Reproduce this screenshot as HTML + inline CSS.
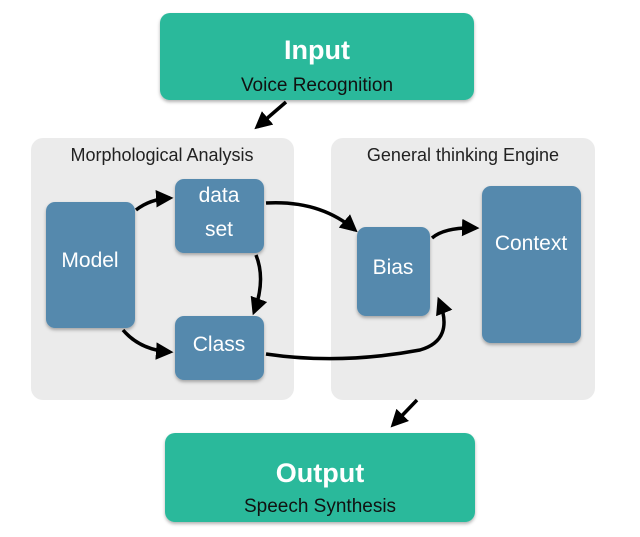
<!DOCTYPE html>
<html><head><meta charset="utf-8"><style>
html,body{margin:0;padding:0;background:#fff;}
svg{display:block;font-family:"Liberation Sans",sans-serif;}
</style></head><body>
<svg width="640" height="537" viewBox="0 0 640 537" xmlns="http://www.w3.org/2000/svg">
<defs>
<marker id="a" markerWidth="5" markerHeight="5" refX="4" refY="2.5" orient="auto" markerUnits="strokeWidth">
<path d="M0,0 L5,2.5 L0,5 z" fill="#000"/></marker>
<filter id="s" x="-10%" y="-10%" width="120%" height="130%"><feDropShadow dx="0" dy="2" stdDeviation="1.5" flood-opacity="0.3"/></filter>
</defs>
<rect x="31" y="138" width="263" height="262" rx="12" fill="#ebebeb"/>
<rect x="331" y="138" width="264" height="262" rx="12" fill="#ebebeb"/>
<text x="162" y="161" font-size="18" text-anchor="middle" fill="#222">Morphological Analysis</text>
<text x="463" y="161" font-size="18" text-anchor="middle" fill="#222">General thinking Engine</text>

<rect x="160" y="13" width="314" height="87" rx="10" fill="#2bb99b" filter="url(#s)"/>
<text x="317" y="59" font-size="27" font-weight="bold" text-anchor="middle" fill="#fff">Input</text>
<text x="317" y="91" font-size="19" text-anchor="middle" fill="#111">Voice Recognition</text>

<rect x="165" y="433" width="310" height="89" rx="10" fill="#2bb99b" filter="url(#s)"/>
<text x="320" y="482" font-size="27" font-weight="bold" text-anchor="middle" fill="#fff">Output</text>
<text x="320" y="512" font-size="19" text-anchor="middle" fill="#111">Speech Synthesis</text>

<g fill="#5589ad" filter="url(#s)">
<rect x="46" y="202" width="89" height="126" rx="9"/>
<rect x="175" y="179" width="89" height="74" rx="9"/>
<rect x="175" y="316" width="89" height="64" rx="9"/>
<rect x="357" y="227" width="73" height="89" rx="9"/>
<rect x="482" y="186" width="99" height="157" rx="9"/>
</g>
<g fill="#fff" font-size="21" text-anchor="middle">
<text x="90" y="267">Model</text>
<text x="219" y="202">data</text>
<text x="219" y="236">set</text>
<text x="219" y="351">Class</text>
<text x="393" y="274">Bias</text>
<text x="531" y="250">Context</text>
</g>
<g fill="none" stroke="#000" stroke-width="3.5" marker-end="url(#a)">
<path d="M286,102 L257,127"/>
<path d="M417,400 L393,425"/>
<path d="M136,210 Q150,199 170,198"/>
<path d="M123,330 Q140,350 170,352"/>
<path d="M256,255 Q266,280 254,312"/>
<path d="M266,203 Q320,200 355,230"/>
<path d="M432,238 Q445,227 476,228"/>
<path d="M266,354 Q340,365 420,350 Q455,340 439,300"/>
</g>
</svg>
</body></html>
